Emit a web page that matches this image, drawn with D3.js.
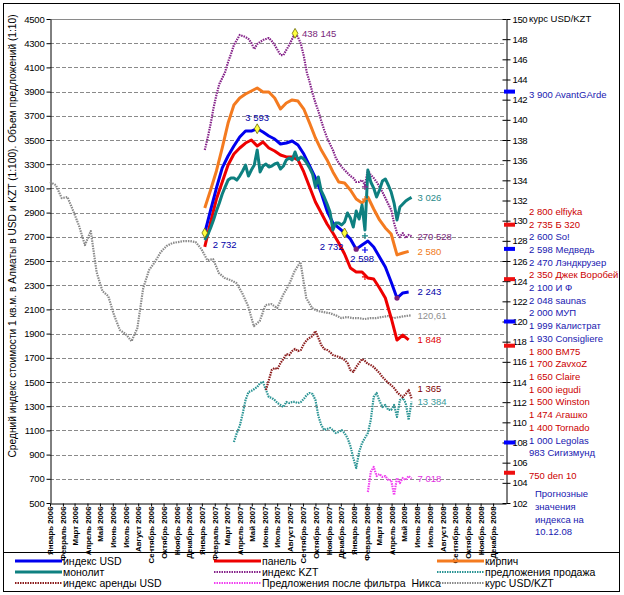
<!DOCTYPE html>
<html><head><meta charset="utf-8">
<script src="https://cdn.jsdelivr.net/npm/d3@7"></script>
<style>
body{margin:0;background:#fff;}
svg{display:block;font-family:"Liberation Sans",Arial,sans-serif;}
</style></head><body>
<svg id="c" width="624" height="595"></svg>
<script>
// ---------------- DATA ----------------
const monthNames = ["Январь","Февраль","Март","Апрель","Май","Июнь","Июль","Август","Сентябрь","Октябрь","Ноябрь","Декабрь"];
const years = [2006, 2007, 2008];
const monthLabels = years.flatMap(y => monthNames.map(m => m + " " + y));

const leftTicks = [500,700,900,1100,1300,1500,1700,1900,2100,2300,2500,2700,2900,3100,3300,3500,3700,3900,4100,4300,4500];
const rightTicks = [102,104,106,108,110,112,114,116,118,120,122,124,126,128,130,132,134,136,138,140,142,144,146,148,150];

// biweekly series (USD per sq.m), from 2007-01-08
const biweeklyStart = "2007-01-08";
const indexUSD = [2732,2921,3103,3269,3368,3450,3525,3574,3574,3593,3566,3533,3508,3467,3475,3492,3459,3384,3285,3186,3062,2913,2814,2773,2732,2682,2598,2632,2665,2616,2533,2450,2326,2194,2236,2243];
const panel = [2616,2822,3012,3153,3293,3384,3434,3475,3500,3450,3483,3434,3409,3376,3360,3360,3335,3236,3112,2988,2897,2806,2731,2649,2558,2442,2409,2409,2360,2351,2277,2194,2029,1847,1888,1848];
const kirpich = [2938,3087,3244,3434,3640,3789,3847,3880,3905,3930,3897,3897,3847,3756,3806,3831,3822,3756,3640,3517,3417,3335,3236,3153,3145,3087,3012,2979,3029,2930,2839,2773,2723,2550,2566,2580];

// weekly series, from 2007-01-08
const weeklyStart = "2007-01-08";
const monolit = [2674,2715,2773,2839,2913,2979,3054,3112,3169,3186,3186,3169,3202,3244,3293,3202,3252,3293,3417,3236,3285,3302,3277,3285,3302,3310,3260,3285,3335,3351,3335,3401,3335,3360,3343,3310,3269,3219,3112,3194,3079,3029,2971,2905,2756,2814,2814,2798,2822,2897,2855,2781,2913,2847,2963,2756,3252,3153,3103,3029,3087,3161,3178,3128,3070,2979,2839,2946,2971,2996,3012,3026];
// index in KZT (plotted 1:100)
const indexKZT = [341700,351700,363200,376400,387200,396300,401200,406200,414500,421100,428500,432600,436800,436000,435100,433500,430200,425200,429300,431000,432600,433500,434300,431800,428500,424400,420200,420200,424400,428500,433500,438145,435100,429300,419400,406200,397900,388800,380600,374000,365700,358300,351700,346700,341700,335100,331000,327700,325200,322700,320200,318600,315300,315300,316900,312800,325200,321100,318600,315300,311200,307000,302100,297100,292200,281400,273100,269800,273100,269000,271500,270528];
// rent index USD, weekly from 2007-06-04
const rentStart = "2007-06-04";
const rentUSD = [1434,1517,1599,1616,1607,1657,1690,1731,1723,1756,1773,1756,1765,1814,1847,1864,1880,1921,1864,1806,1773,1765,1748,1723,1715,1707,1698,1682,1657,1599,1583,1624,1657,1690,1674,1649,1640,1624,1599,1574,1541,1517,1492,1475,1450,1417,1393,1376,1401,1434,1365];
// number of sale offers (plotted 1:10), weekly from 2007-03-19
const offersStart = "2007-03-19";
const offersSale = [10040,10780,11360,12360,13510,14170,14260,14420,14590,14920,15000,14340,13760,13680,13510,13260,13100,12930,13350,13260,13350,13350,13260,13350,13600,13930,14090,14010,13510,12190,11450,11030,11120,11200,11030,10780,10870,11030,10780,10370,9710,8720,7890,9220,9960,10370,10780,11860,13760,14090,13430,12930,13100,12690,12690,13100,12110,13510,13680,13260,11860,13384];
// offers after Niks filter (plotted 1:10), weekly from 2008-02-04
const niksStart = "2008-02-04";
const offersNiks = [5910,7560,7980,7230,7400,7150,7230,6900,6900,5660,7070,6650,7070,6900,7230,7018];
// USD/KZT rate, biweekly from 2006-01-01 (right axis)
const kursStart = "2006-01-01";
const kursUSDKZT = [133.83,133.53,132.24,132.34,130.95,129.46,127.58,128.97,124.90,123.02,122.52,120.63,119.15,118.75,118.05,119.35,123.31,125.10,125.89,126.88,127.48,127.78,127.88,127.98,127.98,127.88,127.18,126.09,126.19,124.80,124.31,124.11,123.81,122.82,121.53,119.54,120.04,121.63,121.73,121.33,122.62,123.61,125.00,125.89,122.32,121.33,121.03,120.93,120.83,120.63,120.34,120.44,120.34,120.34,120.24,120.34,120.34,120.44,120.54,120.34,120.44,120.54,120.61];

// cross marks (one marker per series, 2008-01-28)
const crossDate = "2008-01-28";
const crossValues = {kzt: 3112, kirpich: 3012, monolit: 2707, usd: 2591, panel: 2368};

// forecasts on 10.12.08
const forecastValues = [3900,2800,2735,2600,2598,2470,2350,2100,2048,2000,1999,1930,1800,1700,1650,1600,1500,1474,1400,1000,983,750];
const forecastNames = ["AvantGArde","elfiyka","Б 320","So!","Медведь","Лэндкрузер","Джек Воробей","И Ф","saunas","МУП","Калистрат","Consigliere","ВМ75","ZavxoZ","Claire","iegudi","Winston","Агашко","Tornado","Legolas","Сигизмунд","den 10"];
const forecastGroup = ["b","r","r","b","b","b","r","b","b","b","b","b","r","r","r","r","r","r","r","b","b","r"];
const forecastMarked = [3900,2800,2600,2350,2000,1800,1000,750];
const forecastNote = ["Прогнозные","значения","индекса на","10.12.08"];

// ---------------- CHART ----------------
const svg = d3.select("#c");
const L = 50, R = 506, T = 19, B = 503;
const FS = 9.5;
const x = d3.scaleUtc().domain([new Date(Date.UTC(2006,0,1)), new Date(Date.UTC(2009,0,1))]).range([L, R]);
const yL = d3.scaleLinear().domain([500,4500]).range([B, T]);
const yR = d3.scaleLinear().domain([102,150]).range([B, T]);
const fmt = v => d3.format(",")(Math.round(v)).replace(/,/g, " ");
const toDate = s => new Date(s + "T00:00:00Z");
function pts(values, start, step, div) {
  const d0 = toDate(start);
  return values.map((v, i) => ({date: d3.utcDay.offset(d0, i * step), v: v / div, raw: v}));
}

// frame
svg.append("rect").attr("x",3.5).attr("y",3.5).attr("width",616).attr("height",588).attr("fill","none").attr("stroke","#000");
svg.append("line").attr("x1",3.5).attr("x2",619.5).attr("y1",552.5).attr("y2",552.5).attr("stroke","#000");

// gridlines
svg.append("g").selectAll("line").data(leftTicks.filter(v => v > 500 && v < 4500)).join("line")
  .attr("x1", L).attr("x2", R).attr("y1", d => Math.round(yL(d)) + 0.5).attr("y2", d => Math.round(yL(d)) + 0.5)
  .attr("stroke", "#8a8a8a").attr("stroke-dasharray", "4,2");
svg.append("line").attr("x1", L).attr("x2", R).attr("y1", yL(4500) + 0.5).attr("y2", yL(4500) + 0.5).attr("stroke", "#8a8a8a");

// left axis
const gl = svg.append("g").attr("transform", `translate(${L + 0.5},0)`)
  .call(d3.axisLeft(yL).tickValues(leftTicks).tickSize(4).tickSizeOuter(0).tickPadding(2).tickFormat(d3.format("d")));
gl.attr("font-family", null);
gl.selectAll("text").attr("font-size", FS).attr("letter-spacing", "-0.2px");

// right axis
const gr = svg.append("g").attr("transform", `translate(${R + 0.5},0)`)
  .call(d3.axisRight(yR).tickValues(rightTicks).tickSize(4).tickSizeOuter(0).tickPadding(2).tickFormat(d3.format("d")));
gr.selectAll(".tick").append("line").attr("x1", -4).attr("x2", 0).attr("stroke", "#000");
gr.attr("font-family", null);
gr.selectAll("text").attr("font-size", FS).attr("letter-spacing", "-0.4px");
svg.append("text").attr("x", 529).attr("y", yR(150)).attr("dy", "0.35em").attr("font-size", FS).text("курс USD/KZT");

// bottom axis
const months = d3.utcMonths(new Date(Date.UTC(2006,0,1)), new Date(Date.UTC(2009,0,1)));
const gb = svg.append("g").attr("transform", `translate(0,${B + 0.5})`)
  .call(d3.axisBottom(x).tickValues(months).tickSize(3).tickSizeOuter(0).tickFormat((d, i) => monthLabels[i]));
gb.attr("font-family", null);
gb.selectAll("text").attr("transform", "rotate(-90)").attr("x", -3).attr("y", 0).attr("dy", "0.35em")
  .attr("text-anchor", "end").attr("font-size", 7.8).attr("font-weight", "bold");

// y title
svg.append("text").attr("transform", "translate(12,236) rotate(-90)").attr("text-anchor", "middle")
  .attr("dy", "0.35em").attr("font-size", 10.2)
  .text("Средний индекс стоимости 1 кв.м. в Алматы в USD и KZT (1:100). Объем предложений (1:10)");

// series
const sKurs = pts(kursUSDKZT, kursStart, 14, 1);
const sOffers = pts(offersSale, offersStart, 7, 10);
const sRent = pts(rentUSD, rentStart, 7, 1);
const sNiks = pts(offersNiks, niksStart, 7, 10);
const sKZT = pts(indexKZT, weeklyStart, 7, 100);
const sKirpich = pts(kirpich, biweeklyStart, 14, 1);
const sPanel = pts(panel, biweeklyStart, 14, 1);
const sUSD = pts(indexUSD, biweeklyStart, 14, 1);
const sMonolit = pts(monolit, weeklyStart, 7, 1);

const lineL = d3.line().x(d => x(d.date)).y(d => yL(d.v));
const lineR = d3.line().x(d => x(d.date)).y(d => yR(d.v));

const series = [
  {name:"курс USD/KZT", data:sKurs, gen:lineR, color:"#8a8a8a", dotted:true, label:"120,61", lc:"#8f8f8f"},
  {name:"предложения продажа", data:sOffers, gen:lineL, color:"#2a9494", dotted:true, label:fmt(offersSale[offersSale.length-1]), lc:"#3a9a9a"},
  {name:"индекс аренды USD", data:sRent, gen:lineL, color:"#8b1c1c", dotted:true, label:fmt(rentUSD[rentUSD.length-1]), lc:"#800000", dy:-10},
  {name:"Предложения после фильтра  Никса", data:sNiks, gen:lineL, color:"#f040f0", dotted:true, label:fmt(offersNiks[offersNiks.length-1]), lc:"#e030e0"},
  {name:"индекс KZT", data:sKZT, gen:lineL, color:"#86248a", dotted:true, label:fmt(indexKZT[indexKZT.length-1]), lc:"#7a1f7a"},
  {name:"кирпич", data:sKirpich, gen:lineL, color:"#f47b20", dotted:false, label:fmt(kirpich[kirpich.length-1]), lc:"#f07a20"},
  {name:"панель", data:sPanel, gen:lineL, color:"#ee0000", dotted:false, label:fmt(panel[panel.length-1]), lc:"#e00000"},
  {name:"индекс USD", data:sUSD, gen:lineL, color:"#0000ee", dotted:false, label:fmt(indexUSD[indexUSD.length-1]), lc:"#0000a8"},
  {name:"монолит", data:sMonolit, gen:lineL, color:"#0e8080", dotted:false, label:fmt(monolit[monolit.length-1]), lc:"#2a8a8a"}
];

const gS = svg.append("g");
series.forEach(s => {
  gS.append("path").attr("d", s.gen(s.data)).attr("fill", "none").attr("stroke", s.color)
    .attr("stroke-width", s.dotted ? 2.2 : 3).attr("stroke-linejoin", "round")
    .attr("stroke-dasharray", s.dotted ? "1.5,1" : null);
});

// cross marks
const cd = toDate(crossDate);
const crosses = [
  {v: crossValues.kzt, c:"#86248a"}, {v: crossValues.kirpich, c:"#f47b20"}, {v: crossValues.monolit, c:"#0e8080"},
  {v: crossValues.usd, c:"#0000ee"}, {v: crossValues.panel, c:"#ee0000"}
];
svg.append("g").selectAll("path").data(crosses).join("path")
  .attr("d", d => { const cx = x(cd), cy = yL(d.v); return `M${cx-3},${cy}H${cx+3}M${cx},${cy-3}V${cy+3}`; })
  .attr("stroke", d => d.c).attr("stroke-width", 1.2);

// special point markers
const diamond = d3.symbol(d3.symbolDiamond, 28);
const diamonds = [sUSD[0], sUSD[9], sUSD[24]];
svg.append("g").selectAll("path").data(diamonds).join("path")
  .attr("transform", d => `translate(${x(d.date)},${yL(d.v)})`).attr("d", diamond)
  .attr("fill", "#ffff40").attr("stroke", "#6b6b00").attr("stroke-width", 0.8);
const kztPeak = sKZT[d3.maxIndex(indexKZT)];
svg.append("path").attr("transform", `translate(${x(kztPeak.date)},${yL(kztPeak.v)})`).attr("d", diamond)
  .attr("fill", "#ffff40").attr("stroke", "#6b6b00").attr("stroke-width", 0.8);
svg.append("g").selectAll("circle").data([sUSD[26], sUSD[33]]).join("circle")
  .attr("cx", d => x(d.date)).attr("cy", d => yL(d.v)).attr("r", 2.6).attr("fill", "#7a1f7a");

// point annotations
const ann = svg.append("g").attr("font-size", FS);
ann.append("text").attr("x", x(sUSD[0].date) + 8).attr("y", yL(sUSD[0].v) + 12).attr("dy", "0.35em").attr("fill", "#0000a8").text(fmt(indexUSD[0]));
ann.append("text").attr("x", x(sUSD[9].date)).attr("y", yL(sUSD[9].v) - 11).attr("dy", "0.35em").attr("text-anchor", "middle").attr("fill", "#0000a8").text(fmt(indexUSD[9]));
ann.append("text").attr("x", x(sUSD[24].date) - 1).attr("y", yL(sUSD[24].v) + 14).attr("dy", "0.35em").attr("text-anchor", "end").attr("fill", "#0000a8").text(fmt(indexUSD[24]));
ann.append("text").attr("x", x(sUSD[26].date) + 6).attr("y", yL(sUSD[26].v) + 10).attr("dy", "0.35em").attr("text-anchor", "middle").attr("fill", "#0000a8").text(fmt(indexUSD[26]));
ann.append("text").attr("x", x(kztPeak.date) + 7).attr("y", yL(kztPeak.v)).attr("dy", "0.35em").attr("fill", "#7a1f7a").text(fmt(kztPeak.raw));

// end labels
const endX = d3.max(series, s => x(s.data[s.data.length - 1].date)) + 6;
series.forEach(s => {
  const last = s.data[s.data.length - 1];
  ann.append("text").attr("x", endX).attr("y", s.gen === lineR ? yR(last.v) : yL(last.v)).attr("dy", (s.dy || 0) + 3.4)
    .attr("fill", s.lc).text(s.label);
});

// forecasts
const fcColor = g => g === "b" ? "#1818b0" : "#cc0000";
svg.append("g").selectAll("rect").data(forecastMarked).join("rect")
  .attr("x", R - 2).attr("width", 11).attr("y", d => yL(d) - 2).attr("height", 4)
  .attr("fill", d => forecastGroup[forecastValues.indexOf(d)] === "b" ? "#0000ff" : "#ee1010");

const gap = 12.7;
let clusters = forecastValues.map((v, i) => ({items: [{v, i, ideal: yL(v)}]}));
function clusterTop(c) { return d3.mean(c.items, d => d.ideal) - (c.items.length - 1) * gap / 2; }
let merged = true;
while (merged) {
  merged = false;
  for (let k = 1; k < clusters.length; k++) {
    const a = clusters[k - 1], b = clusters[k];
    if (clusterTop(a) + a.items.length * gap > clusterTop(b)) {
      a.items = a.items.concat(b.items); clusters.splice(k, 1); merged = true; break;
    }
  }
}
const fcPos = [];
clusters.forEach(c => { const t = clusterTop(c) + 3; c.items.forEach((d, j) => fcPos.push({...d, y: t + j * gap})); });
svg.append("g").attr("font-size", FS).selectAll("text").data(fcPos).join("text")
  .attr("x", 529).attr("y", d => d.y).attr("dy", "0.35em")
  .attr("fill", d => fcColor(forecastGroup[d.i]))
  .text(d => fmt(d.v) + " " + forecastNames[d.i]);
svg.append("g").attr("font-size", FS).selectAll("text").data(forecastNote).join("text")
  .attr("x", 535).attr("y", (d, i) => 494 + i * 12.7).attr("dy", "0.35em").attr("fill", "#1818b0").text(d => d);

// legend
const legendRows = [
  [{n:"индекс USD", c:"#0000ee", d:false}, {n:"панель", c:"#ee0000", d:false}, {n:"кирпич", c:"#f47b20", d:false}],
  [{n:"монолит", c:"#0e8080", d:false}, {n:"индекс KZT", c:"#86248a", d:true}, {n:"предложения продажа", c:"#2a9494", d:true}],
  [{n:"индекс аренды USD", c:"#8b1c1c", d:true}, {n:"Предложения после фильтра  Никса", c:"#f040f0", d:true}, {n:"курс USD/KZT", c:"#8a8a8a", d:true}]
];
const colX = [15, 214, 437];
const lg = svg.append("g").attr("font-size", 10.5);
legendRows.forEach((row, r) => row.forEach((it, c) => {
  const yy = 561 + r * 11;
  lg.append("line").attr("x1", colX[c]).attr("x2", colX[c] + 47).attr("y1", yy).attr("y2", yy)
    .attr("stroke", it.c).attr("stroke-width", it.d ? 2 : 3).attr("stroke-dasharray", it.d ? "1.5,1" : null);
  lg.append("text").attr("x", colX[c] + 48).attr("y", yy).attr("dy", "0.35em").style("white-space", "pre").text(it.n);
}));
</script>
</body></html>
